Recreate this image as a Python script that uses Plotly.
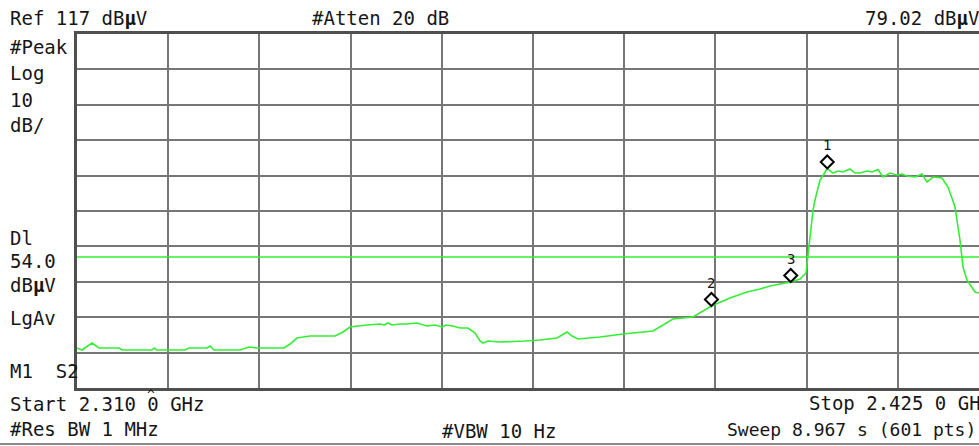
import plotly.graph_objects as go

# ---- analyzer settings -------------------------------------------------
ref_level = 117.0          # dBuV at top graticule
db_per_div = 10.0
n_div = 10
start_mhz = 2310.0
stop_mhz = 2425.0
display_line = 54.0        # dBuV
atten_db = 20
rbw_text = "1 MHz"
vbw_text = "10 Hz"
sweep_text = "8.967 s (601 pts)"

# ---- trace (peak, log-averaged) ----------------------------------------
freq_mhz = [
    2310.00, 2310.63, 2311.89, 2312.77, 2315.30, 2315.67, 2319.46, 2319.71, 2320.09, 2323.62,
    2324.12, 2326.39, 2326.77, 2327.28, 2330.55, 2331.69, 2332.70, 2336.10, 2336.86, 2337.74,
    2339.38, 2342.53, 2343.54, 2344.42, 2346.57, 2348.21, 2348.71, 2349.22, 2349.72, 2350.73,
    2351.61, 2352.87, 2354.13, 2355.14, 2356.03, 2356.53, 2357.41, 2358.30, 2359.30, 2360.19,
    2360.82, 2361.20, 2361.83, 2363.34, 2366.49, 2368.38, 2370.53, 2371.28, 2371.79, 2372.42,
    2373.18, 2375.95, 2378.85, 2382.63, 2383.52, 2385.15, 2387.68, 2390.00, 2392.34, 2394.48,
    2396.13, 2397.39, 2400.00, 2401.17, 2401.93, 2402.43, 2402.81, 2403.06, 2403.69, 2404.20,
    2404.60, 2405.33, 2405.96, 2406.59, 2407.47, 2408.10, 2408.73, 2409.62, 2410.25, 2411.00,
    2411.63, 2412.52, 2413.40, 2414.03, 2414.66, 2415.67, 2416.55, 2417.18, 2417.94, 2419.07,
    2419.83, 2420.33, 2420.71, 2421.34, 2421.72, 2422.22, 2423.23, 2423.74, 2425.00,
]
level_dbuv = [
    28.30, 27.73, 29.71, 28.30, 28.30, 27.73, 27.73, 28.30, 27.73, 27.73,
    28.30, 28.30, 28.87, 27.73, 27.73, 28.58, 28.30, 28.30, 29.43, 31.12,
    31.69, 31.69, 32.82, 34.23, 34.80, 35.08, 34.80, 35.36, 34.80, 35.08,
    35.08, 35.36, 34.51, 34.80, 34.23, 34.80, 34.51, 33.95, 33.95, 32.54,
    30.28, 29.71, 30.28, 29.99, 30.28, 30.56, 31.12, 32.25, 32.82, 31.69,
    30.84, 31.41, 32.25, 33.10, 34.23, 36.49, 37.06, 40.16, 42.42, 44.12,
    44.97, 45.81, 46.94, 47.79, 49.49, 58.81, 67.28, 70.11, 75.76, 77.45,
    79.02, 77.73, 78.30, 78.01, 78.86, 77.73, 77.73, 78.30, 78.01, 78.70,
    76.60, 77.73, 77.17, 77.45, 76.89, 76.60, 77.45, 75.19, 76.60, 76.32,
    73.78, 70.67, 68.13, 58.81, 51.18, 47.51, 44.12, 43.84, 43.55,
]

# ---- markers -----------------------------------------------------------
marker_ids = ["1", "2", "3"]
marker_freq_mhz = [2404.60, 2390.00, 2400.00]
marker_level = [level_dbuv[freq_mhz.index(f)] for f in marker_freq_mhz]

# ---- screen geometry ---------------------------------------------------
W, H = 979, 446
LEFT, TOP, BOTTOM = 77, 34, 388
FULL_GRID_W = 912                     # width of all 10 divisions
PLOT_W = W - LEFT                     # visible part of the graticule
PLOT_H = BOTTOM - TOP
span = stop_mhz - start_mhz
x_end = start_mhz + span * PLOT_W / FULL_GRID_W
bottom_level = ref_level - n_div * db_per_div

GREEN = "#33ee33"
GRID = "#767676"
FRAME = "#4f4f4f"
TXT = "#161616"
MONO = "DejaVu Sans Mono"
CHAR_W = 11.44                        # advance of the 19 px mono font


def px_x(x):
    return (x - LEFT) / PLOT_W


def px_y(y):
    return (BOTTOM - y) / PLOT_H


def fmt_ghz(mhz):
    s = f"{mhz / 1000:.4f}"
    return s[:-1] + " " + s[-1]


fig = go.Figure()
fig.add_trace(go.Scatter(
    x=freq_mhz, y=level_dbuv, mode="lines",
    line=dict(color=GREEN, width=1.6), hoverinfo="skip", showlegend=False,
))

shapes = [
    # display line
    dict(type="line", xref="paper", yref="y", x0=0, x1=1,
         y0=display_line, y1=display_line, line=dict(color=GREEN, width=1.6)),
    # separator under the footer
    dict(type="line", xref="paper", yref="paper", x0=px_x(0), x1=px_x(W),
         y0=px_y(444), y1=px_y(444), line=dict(color="#8a8a8a", width=2)),
]
annotations = []
for mid, f, lv in zip(marker_ids, marker_freq_mhz, marker_level):
    shapes.append(dict(
        type="path", xref="x", yref="y", xsizemode="pixel", ysizemode="pixel",
        xanchor=f, yanchor=lv, path="M0,0 L6.5,6.5 L0,13 L-6.5,6.5 Z",
        line=dict(color="black", width=2), fillcolor="white", layer="above",
    ))
    annotations.append(dict(
        x=f, y=lv, xref="x", yref="y", text=mid, showarrow=False,
        yshift=23, font=dict(family=MONO, size=14, color=TXT),
    ))


def label(text, x, y, anchor="left", size=19):
    annotations.append(dict(
        text=text, xref="paper", yref="paper", x=px_x(x), y=px_y(y),
        xanchor=anchor, yanchor="middle", showarrow=False,
        font=dict(family=MONO, size=size, color=TXT),
    ))


label(f"Ref {ref_level:.0f} dB<b>µ</b>V", 8, 18)
label(f"#Atten {atten_db} dB", 310, 18)
label(f"{marker_level[0]:.2f} dB<b>µ</b>V", 981, 18, anchor="right")
label("#Peak", 8, 47)
label("Log", 8, 73)
label(f"{db_per_div:.0f}", 8, 100)
label("dB/", 8, 125)
label("Dl", 8, 238)
label(f"{display_line:.1f}", 8, 261)
label("dB<b>µ</b>V", 8, 285)
label("LgAv", 8, 318)
label("M1  S2", 8, 371)
start_text = f"Start {fmt_ghz(start_mhz)} GHz"
label(start_text, 8, 404)
# circumflex flag over the last digit of the start frequency
hat_col = start_text.index(" GHz") - 1
label("^", 8 + (hat_col + 0.5) * CHAR_W, 394, anchor="center", size=13)
label(f"#Res BW {rbw_text}", 8, 429)
label(f"Stop {fmt_ghz(stop_mhz)} GHz", 807, 403)
label(f"#VBW {vbw_text}", 440, 431)
label(f"Sweep {sweep_text}", 978, 430, anchor="right", size=18)

fig.update_layout(
    width=W, height=H,
    margin=dict(l=LEFT, r=0, t=TOP, b=H - BOTTOM, pad=0),
    paper_bgcolor="white", plot_bgcolor="white",
    shapes=shapes, annotations=annotations, showlegend=False,
    xaxis=dict(
        range=[start_mhz, x_end], tick0=start_mhz, dtick=span / n_div,
        showticklabels=False, ticks="", showgrid=True, gridcolor=GRID,
        gridwidth=1.6, zeroline=False, showline=True, linecolor=FRAME,
        linewidth=2.5, mirror=True, fixedrange=True,
    ),
    yaxis=dict(
        range=[bottom_level, ref_level], tick0=bottom_level, dtick=db_per_div,
        showticklabels=False, ticks="", showgrid=True, gridcolor=GRID,
        gridwidth=1.6, zeroline=False, showline=True, linecolor=FRAME,
        linewidth=2.5, mirror=False, fixedrange=True,
    ),
)

fig.write_html("out.html")
